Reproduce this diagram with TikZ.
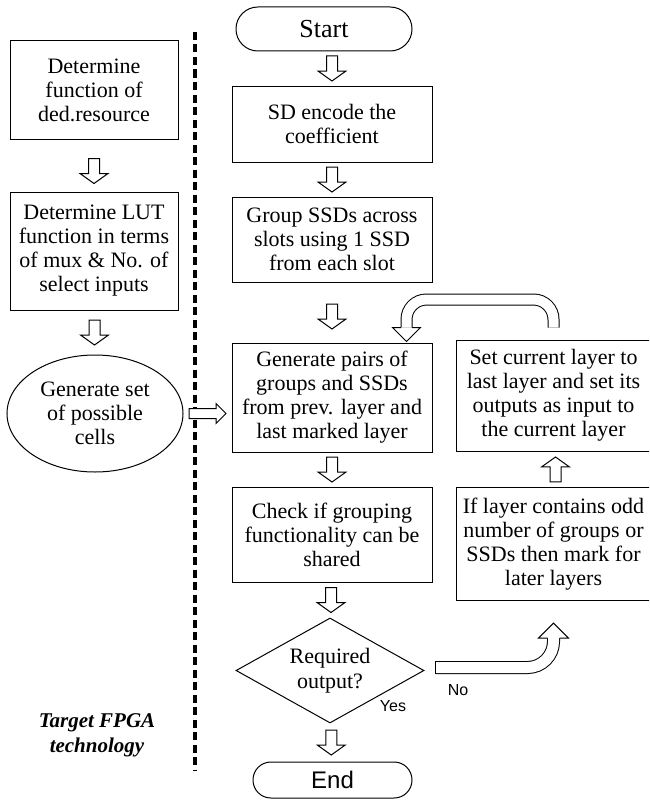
\documentclass[tikz,border=0pt]{standalone}
\usepackage{fontspec}
\setmainfont{Liberation Serif}
\setsansfont{Liberation Sans}
\usetikzlibrary{shapes.geometric,calc}
\tikzset{
  box/.style={draw, line width=1pt, align=center, inner sep=0pt, font=\fontsize{22}{24}\selectfont},
  termbox/.style={draw, line width=1pt, align=center, inner sep=0pt},
  hollow/.style={double=white, double distance=10pt, line width=1pt},
  downarr/.pic={\draw[line width=1pt, fill=white] (-5.5,12.5) -- (-5.5,-2.5) -- (-14,-2.5) -- (0,-12.5) -- (14,-2.5) -- (5.5,-2.5) -- (5.5,12.5) -- cycle;},
  rightarr/.pic={\draw[line width=1pt, fill=white] (-18.5,5) -- (8.5,5) -- (8.5,10) -- (18.5,0) -- (8.5,-10) -- (8.5,-5) -- (-18.5,-5) -- cycle;}
}
\begin{document}
\begin{tikzpicture}[x=1pt,y=1pt]
\useasboundingbox (0,0) rectangle (649,-800);
\clip (0,0) rectangle (649,-800);

% dashed separator
\coordinate (dtop) at (195,-32);
\coordinate (dbot) at (195,-770);
\draw[line width=3.2pt, dash pattern=on 8pt off 4.5pt] (dtop) -- (dbot);

% left column
\node[box, minimum width=168, minimum height=98] (l1) at (94,-90) {Determine\\function of\\ded.resource};
\node[box, minimum width=168, minimum height=118] (l2) at (94,-251) {Determine LUT\\function in terms\\of mux \& No. of\\select inputs};
\node[draw, ellipse, line width=1pt, minimum width=176, minimum height=117, inner sep=0pt, align=center, font=\fontsize{22}{24}\selectfont] (ell) at (95,-413.5) {Generate set\\of possible\\cells};
\node[align=center, font=\bfseries\itshape\fontsize{21}{25}\selectfont] (tgt) at (97,-735.5) {Target FPGA\\technology};

% main column
\node[termbox, minimum width=176, minimum height=44, rounded corners=21.9pt, font=\fontsize{26}{28}\selectfont] (start) at (324,-29) {Start};
\node[box, minimum width=200, minimum height=76] (sd) at (332,-124) {SD encode the\\coefficient};
\node[box, minimum width=200, minimum height=85] (grp) at (332,-239.5) {Group SSDs across\\slots using 1 SSD\\from each slot};
\node[box, minimum width=200, minimum height=109] (gen) at (332,-397.5) {Generate pairs of\\groups and SSDs\\from prev. layer and\\last marked layer};
\node[box, minimum width=200, minimum height=95] (chk) at (332,-534.5) {Check if grouping\\functionality can be\\shared};
\node[draw, diamond, aspect=1.79, line width=1pt, minimum width=188, minimum height=105, inner sep=0pt, align=center, font=\fontsize{22}{25}\selectfont] (dia) at (330,-670.5) {Required\\output?};
\node[termbox, minimum width=159, minimum height=36, rounded corners=17.9pt, font=\sffamily\fontsize{24}{26}\selectfont] (end) at (332.5,-780) {End};

% right column
\node[box, minimum width=195, minimum height=111] (r1) at (553.5,-395.5) {Set current layer to\\last layer and set its\\outputs as input to\\the current layer};
\node[box, minimum width=195, minimum height=112.7] (r2) at (553.5,-544.3) {If layer contains odd\\number of groups or\\SSDs then mark for\\later layers};

% labels
\node[font=\sffamily\fontsize{16}{16}\selectfont] (yes) at (393,-706) {Yes};
\node[font=\sffamily\fontsize{16}{16}\selectfont] (no) at (458,-690) {No};

% straight block arrows
\pic at ($(l1.south)!0.5!(l2.north)+(0,-5.5)$) {downarr};
\pic at ($(l2.south)!0.5!(ell.north)$) {downarr};
\pic at ($(ell.east)!0.5!(ell.east -| gen.west)$) {rightarr};
\pic at ($(start.south -| sd.north)!0.5!(sd.north)$) {downarr};
\pic at ($(sd.south)!0.5!(grp.north)$) {downarr};
\pic at ($(grp.south)!0.5!(gen.north)+(0,-4)$) {downarr};
\pic at ($(gen.south)!0.5!(chk.north)$) {downarr};
\pic at ($(chk.south)!0.5!(dia.north)$) {downarr};
\pic at ($(dia.south)!0.5!(end.north)$) {downarr};
\pic[rotate=180] at ($(r2.north)!0.5!(r1.south)+(2,0)$) {downarr};

% curved loop arrow from r1 back to gen
\coordinate (ta) at ($(r1.north)+(0,12)$);
\coordinate (tb) at ($(gen.north east)+(-26,15)$);
\draw[hollow, rounded corners=20pt] (ta) -- ++(0,28) -| (tb);
\filldraw[line width=1pt, fill=white] ($(tb)+(-5.5,0)$) -- ($(tb)+(-14,0)$) -- ($(tb)+(0,-14)$) -- ($(tb)+(14,0)$) -- ($(tb)+(5.5,0)$);

% "No" arrow from diamond to r2
\coordinate (na) at ($(dia.east)+(11,3)$);
\coordinate (nb) at ($(r2.south)+(0,-37)$);
\draw[hollow, double distance=11pt, rounded corners=26pt] (na) -| (nb);
\draw[line width=1pt] ($(na)+(0,6.5)$) -- ($(na)+(0,-6.5)$);
\filldraw[line width=1pt, fill=white] ($(nb)+(-6,0)$) -- ($(nb)+(-15,0)$) -- ($(nb)+(0,15)$) -- ($(nb)+(15,0)$) -- ($(nb)+(6,0)$);
\end{tikzpicture}
\end{document}
